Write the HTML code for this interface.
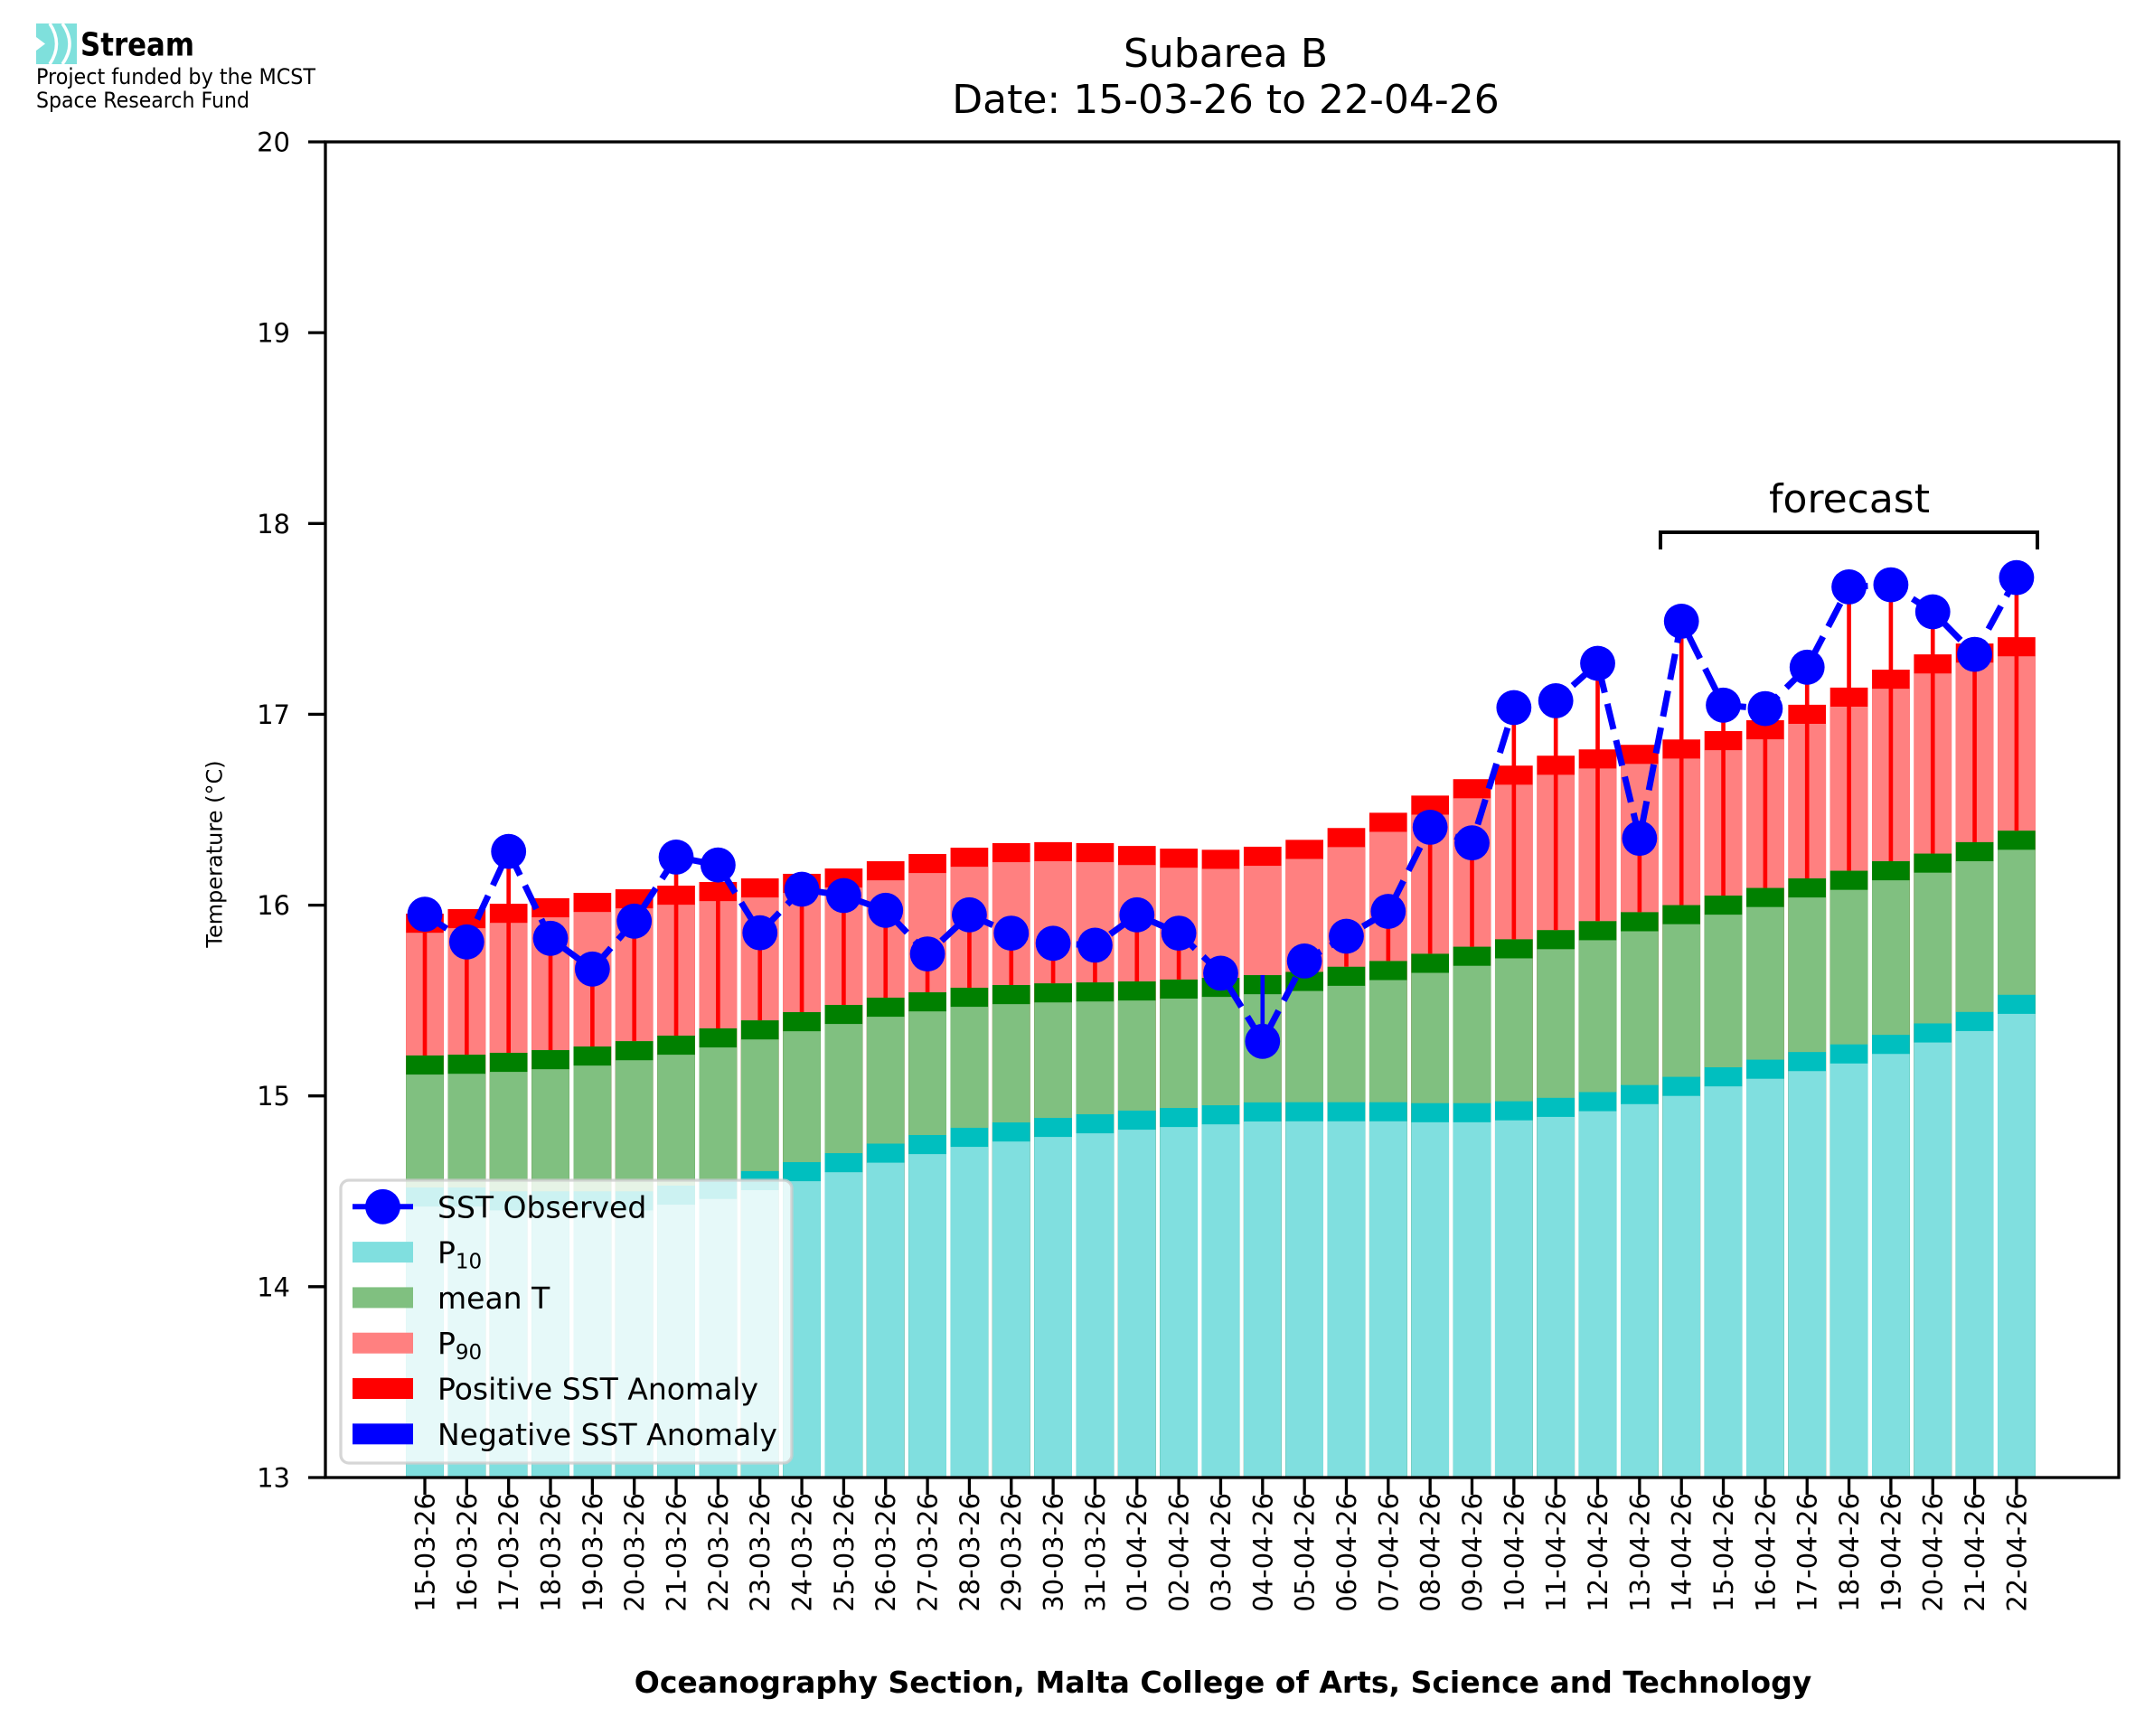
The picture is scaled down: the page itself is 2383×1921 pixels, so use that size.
<!DOCTYPE html>
<html><head><meta charset="utf-8"><style>
html,body{margin:0;padding:0;background:#fff;}
svg{display:block;font-family:"DejaVu Sans","Liberation Sans",sans-serif;}
</style></head><body>
<svg width="2383" height="1921" viewBox="0 0 2383 1921" xmlns="http://www.w3.org/2000/svg">
<rect width="2383" height="1921" fill="#fff"/>
<!-- logo -->
<rect x="40" y="26" width="45" height="45" fill="#7fe0dc"/>
<polygon points="40,41 50,48.5 40,56" fill="#fff"/>
<path d="M55 26 Q70 48.5 55 71" stroke="#fff" stroke-width="3.5" fill="none"/>
<path d="M69 26 Q85 48.5 69 71" stroke="#fff" stroke-width="3.5" fill="none"/>
<text x="89" y="61.5" font-size="36" font-weight="bold" textLength="126" lengthAdjust="spacingAndGlyphs">Stream</text>
<text x="40" y="93" font-size="24" textLength="309" lengthAdjust="spacingAndGlyphs">Project funded by the MCST</text>
<text x="40" y="119" font-size="24" textLength="236" lengthAdjust="spacingAndGlyphs">Space Research Fund</text>
<!-- title -->
<text x="1356" y="74" font-size="44" text-anchor="middle">Subarea B</text>
<text x="1356" y="125" font-size="44" text-anchor="middle">Date: 15-03-26 to 22-04-26</text>
<!-- bars -->
<g transform="matrix(46.34 0 0 -211.14 470 4379.8)">
<g fill="#ff0000">
<rect x="-0.45" y="13" width="0.9" height="2.955"/><rect x="0.55" y="13" width="0.9" height="2.979"/><rect x="1.55" y="13" width="0.9" height="3.007"/><rect x="2.55" y="13" width="0.9" height="3.036"/><rect x="3.55" y="13" width="0.9" height="3.064"/><rect x="4.55" y="13" width="0.9" height="3.083"/><rect x="5.55" y="13" width="0.9" height="3.102"/><rect x="6.55" y="13" width="0.9" height="3.121"/><rect x="7.55" y="13" width="0.9" height="3.14"/><rect x="8.55" y="13" width="0.9" height="3.164"/><rect x="9.55" y="13" width="0.9" height="3.192"/><rect x="10.55" y="13" width="0.9" height="3.23"/><rect x="11.55" y="13" width="0.9" height="3.268"/><rect x="12.55" y="13" width="0.9" height="3.301"/><rect x="13.55" y="13" width="0.9" height="3.325"/><rect x="14.55" y="13" width="0.9" height="3.33"/><rect x="15.55" y="13" width="0.9" height="3.325"/><rect x="16.55" y="13" width="0.9" height="3.31"/><rect x="17.55" y="13" width="0.9" height="3.296"/><rect x="18.55" y="13" width="0.9" height="3.29"/><rect x="19.55" y="13" width="0.9" height="3.306"/><rect x="20.55" y="13" width="0.9" height="3.342"/><rect x="21.55" y="13" width="0.9" height="3.404"/><rect x="22.55" y="13" width="0.9" height="3.484"/><rect x="23.55" y="13" width="0.9" height="3.574"/><rect x="24.55" y="13" width="0.9" height="3.66"/><rect x="25.55" y="13" width="0.9" height="3.731"/><rect x="26.55" y="13" width="0.9" height="3.783"/><rect x="27.55" y="13" width="0.9" height="3.816"/><rect x="28.55" y="13" width="0.9" height="3.84"/><rect x="29.55" y="13" width="0.9" height="3.868"/><rect x="30.55" y="13" width="0.9" height="3.912"/><rect x="31.55" y="13" width="0.9" height="3.969"/><rect x="32.55" y="13" width="0.9" height="4.05"/><rect x="33.55" y="13" width="0.9" height="4.14"/><rect x="34.55" y="13" width="0.9" height="4.234"/><rect x="35.55" y="13" width="0.9" height="4.314"/><rect x="36.55" y="13" width="0.9" height="4.371"/><rect x="37.55" y="13" width="0.9" height="4.404"/>
</g>
<g fill="#ff8080">
<rect x="-0.45" y="13" width="0.9" height="2.855"/><rect x="0.55" y="13" width="0.9" height="2.879"/><rect x="1.55" y="13" width="0.9" height="2.907"/><rect x="2.55" y="13" width="0.9" height="2.936"/><rect x="3.55" y="13" width="0.9" height="2.964"/><rect x="4.55" y="13" width="0.9" height="2.983"/><rect x="5.55" y="13" width="0.9" height="3.002"/><rect x="6.55" y="13" width="0.9" height="3.021"/><rect x="7.55" y="13" width="0.9" height="3.04"/><rect x="8.55" y="13" width="0.9" height="3.064"/><rect x="9.55" y="13" width="0.9" height="3.092"/><rect x="10.55" y="13" width="0.9" height="3.13"/><rect x="11.55" y="13" width="0.9" height="3.168"/><rect x="12.55" y="13" width="0.9" height="3.201"/><rect x="13.55" y="13" width="0.9" height="3.225"/><rect x="14.55" y="13" width="0.9" height="3.23"/><rect x="15.55" y="13" width="0.9" height="3.225"/><rect x="16.55" y="13" width="0.9" height="3.21"/><rect x="17.55" y="13" width="0.9" height="3.196"/><rect x="18.55" y="13" width="0.9" height="3.19"/><rect x="19.55" y="13" width="0.9" height="3.206"/><rect x="20.55" y="13" width="0.9" height="3.242"/><rect x="21.55" y="13" width="0.9" height="3.304"/><rect x="22.55" y="13" width="0.9" height="3.384"/><rect x="23.55" y="13" width="0.9" height="3.474"/><rect x="24.55" y="13" width="0.9" height="3.56"/><rect x="25.55" y="13" width="0.9" height="3.631"/><rect x="26.55" y="13" width="0.9" height="3.683"/><rect x="27.55" y="13" width="0.9" height="3.716"/><rect x="28.55" y="13" width="0.9" height="3.74"/><rect x="29.55" y="13" width="0.9" height="3.768"/><rect x="30.55" y="13" width="0.9" height="3.812"/><rect x="31.55" y="13" width="0.9" height="3.869"/><rect x="32.55" y="13" width="0.9" height="3.95"/><rect x="33.55" y="13" width="0.9" height="4.04"/><rect x="34.55" y="13" width="0.9" height="4.134"/><rect x="35.55" y="13" width="0.9" height="4.214"/><rect x="36.55" y="13" width="0.9" height="4.271"/><rect x="37.55" y="13" width="0.9" height="4.304"/>
</g>
<g fill="#008000">
<rect x="-0.45" y="13" width="0.9" height="2.212"/><rect x="0.55" y="13" width="0.9" height="2.216"/><rect x="1.55" y="13" width="0.9" height="2.226"/><rect x="2.55" y="13" width="0.9" height="2.24"/><rect x="3.55" y="13" width="0.9" height="2.259"/><rect x="4.55" y="13" width="0.9" height="2.287"/><rect x="5.55" y="13" width="0.9" height="2.316"/><rect x="6.55" y="13" width="0.9" height="2.354"/><rect x="7.55" y="13" width="0.9" height="2.396"/><rect x="8.55" y="13" width="0.9" height="2.439"/><rect x="9.55" y="13" width="0.9" height="2.477"/><rect x="10.55" y="13" width="0.9" height="2.515"/><rect x="11.55" y="13" width="0.9" height="2.543"/><rect x="12.55" y="13" width="0.9" height="2.567"/><rect x="13.55" y="13" width="0.9" height="2.581"/><rect x="14.55" y="13" width="0.9" height="2.59"/><rect x="15.55" y="13" width="0.9" height="2.595"/><rect x="16.55" y="13" width="0.9" height="2.6"/><rect x="17.55" y="13" width="0.9" height="2.61"/><rect x="18.55" y="13" width="0.9" height="2.619"/><rect x="19.55" y="13" width="0.9" height="2.633"/><rect x="20.55" y="13" width="0.9" height="2.65"/><rect x="21.55" y="13" width="0.9" height="2.677"/><rect x="22.55" y="13" width="0.9" height="2.707"/><rect x="23.55" y="13" width="0.9" height="2.745"/><rect x="24.55" y="13" width="0.9" height="2.782"/><rect x="25.55" y="13" width="0.9" height="2.821"/><rect x="26.55" y="13" width="0.9" height="2.869"/><rect x="27.55" y="13" width="0.9" height="2.916"/><rect x="28.55" y="13" width="0.9" height="2.963"/><rect x="29.55" y="13" width="0.9" height="3.0"/><rect x="30.55" y="13" width="0.9" height="3.05"/><rect x="31.55" y="13" width="0.9" height="3.09"/><rect x="32.55" y="13" width="0.9" height="3.14"/><rect x="33.55" y="13" width="0.9" height="3.18"/><rect x="34.55" y="13" width="0.9" height="3.23"/><rect x="35.55" y="13" width="0.9" height="3.27"/><rect x="36.55" y="13" width="0.9" height="3.33"/><rect x="37.55" y="13" width="0.9" height="3.39"/>
</g>
<g fill="#80c080">
<rect x="-0.45" y="13" width="0.9" height="2.112"/><rect x="0.55" y="13" width="0.9" height="2.116"/><rect x="1.55" y="13" width="0.9" height="2.126"/><rect x="2.55" y="13" width="0.9" height="2.14"/><rect x="3.55" y="13" width="0.9" height="2.159"/><rect x="4.55" y="13" width="0.9" height="2.187"/><rect x="5.55" y="13" width="0.9" height="2.216"/><rect x="6.55" y="13" width="0.9" height="2.254"/><rect x="7.55" y="13" width="0.9" height="2.296"/><rect x="8.55" y="13" width="0.9" height="2.339"/><rect x="9.55" y="13" width="0.9" height="2.377"/><rect x="10.55" y="13" width="0.9" height="2.415"/><rect x="11.55" y="13" width="0.9" height="2.443"/><rect x="12.55" y="13" width="0.9" height="2.467"/><rect x="13.55" y="13" width="0.9" height="2.481"/><rect x="14.55" y="13" width="0.9" height="2.49"/><rect x="15.55" y="13" width="0.9" height="2.495"/><rect x="16.55" y="13" width="0.9" height="2.5"/><rect x="17.55" y="13" width="0.9" height="2.51"/><rect x="18.55" y="13" width="0.9" height="2.519"/><rect x="19.55" y="13" width="0.9" height="2.533"/><rect x="20.55" y="13" width="0.9" height="2.55"/><rect x="21.55" y="13" width="0.9" height="2.577"/><rect x="22.55" y="13" width="0.9" height="2.607"/><rect x="23.55" y="13" width="0.9" height="2.645"/><rect x="24.55" y="13" width="0.9" height="2.682"/><rect x="25.55" y="13" width="0.9" height="2.721"/><rect x="26.55" y="13" width="0.9" height="2.769"/><rect x="27.55" y="13" width="0.9" height="2.816"/><rect x="28.55" y="13" width="0.9" height="2.863"/><rect x="29.55" y="13" width="0.9" height="2.9"/><rect x="30.55" y="13" width="0.9" height="2.95"/><rect x="31.55" y="13" width="0.9" height="2.99"/><rect x="32.55" y="13" width="0.9" height="3.04"/><rect x="33.55" y="13" width="0.9" height="3.08"/><rect x="34.55" y="13" width="0.9" height="3.13"/><rect x="35.55" y="13" width="0.9" height="3.17"/><rect x="36.55" y="13" width="0.9" height="3.23"/><rect x="37.55" y="13" width="0.9" height="3.29"/>
</g>
<g fill="#00bfbf">
<rect x="-0.45" y="13" width="0.9" height="1.52"/><rect x="0.55" y="13" width="0.9" height="1.52"/><rect x="1.55" y="13" width="0.9" height="1.5"/><rect x="2.55" y="13" width="0.9" height="1.5"/><rect x="3.55" y="13" width="0.9" height="1.5"/><rect x="4.55" y="13" width="0.9" height="1.5"/><rect x="5.55" y="13" width="0.9" height="1.53"/><rect x="6.55" y="13" width="0.9" height="1.56"/><rect x="7.55" y="13" width="0.9" height="1.606"/><rect x="8.55" y="13" width="0.9" height="1.653"/><rect x="9.55" y="13" width="0.9" height="1.7"/><rect x="10.55" y="13" width="0.9" height="1.75"/><rect x="11.55" y="13" width="0.9" height="1.795"/><rect x="12.55" y="13" width="0.9" height="1.833"/><rect x="13.55" y="13" width="0.9" height="1.861"/><rect x="14.55" y="13" width="0.9" height="1.885"/><rect x="15.55" y="13" width="0.9" height="1.904"/><rect x="16.55" y="13" width="0.9" height="1.923"/><rect x="17.55" y="13" width="0.9" height="1.937"/><rect x="18.55" y="13" width="0.9" height="1.951"/><rect x="19.55" y="13" width="0.9" height="1.966"/><rect x="20.55" y="13" width="0.9" height="1.967"/><rect x="21.55" y="13" width="0.9" height="1.967"/><rect x="22.55" y="13" width="0.9" height="1.967"/><rect x="23.55" y="13" width="0.9" height="1.962"/><rect x="24.55" y="13" width="0.9" height="1.962"/><rect x="25.55" y="13" width="0.9" height="1.972"/><rect x="26.55" y="13" width="0.9" height="1.99"/><rect x="27.55" y="13" width="0.9" height="2.02"/><rect x="28.55" y="13" width="0.9" height="2.057"/><rect x="29.55" y="13" width="0.9" height="2.1"/><rect x="30.55" y="13" width="0.9" height="2.15"/><rect x="31.55" y="13" width="0.9" height="2.19"/><rect x="32.55" y="13" width="0.9" height="2.23"/><rect x="33.55" y="13" width="0.9" height="2.27"/><rect x="34.55" y="13" width="0.9" height="2.32"/><rect x="35.55" y="13" width="0.9" height="2.38"/><rect x="36.55" y="13" width="0.9" height="2.44"/><rect x="37.55" y="13" width="0.9" height="2.53"/>
</g>
<g fill="#80dfdf">
<rect x="-0.45" y="13" width="0.9" height="1.42"/><rect x="0.55" y="13" width="0.9" height="1.42"/><rect x="1.55" y="13" width="0.9" height="1.4"/><rect x="2.55" y="13" width="0.9" height="1.4"/><rect x="3.55" y="13" width="0.9" height="1.4"/><rect x="4.55" y="13" width="0.9" height="1.4"/><rect x="5.55" y="13" width="0.9" height="1.43"/><rect x="6.55" y="13" width="0.9" height="1.46"/><rect x="7.55" y="13" width="0.9" height="1.506"/><rect x="8.55" y="13" width="0.9" height="1.553"/><rect x="9.55" y="13" width="0.9" height="1.6"/><rect x="10.55" y="13" width="0.9" height="1.65"/><rect x="11.55" y="13" width="0.9" height="1.695"/><rect x="12.55" y="13" width="0.9" height="1.733"/><rect x="13.55" y="13" width="0.9" height="1.761"/><rect x="14.55" y="13" width="0.9" height="1.785"/><rect x="15.55" y="13" width="0.9" height="1.804"/><rect x="16.55" y="13" width="0.9" height="1.823"/><rect x="17.55" y="13" width="0.9" height="1.837"/><rect x="18.55" y="13" width="0.9" height="1.851"/><rect x="19.55" y="13" width="0.9" height="1.866"/><rect x="20.55" y="13" width="0.9" height="1.867"/><rect x="21.55" y="13" width="0.9" height="1.867"/><rect x="22.55" y="13" width="0.9" height="1.867"/><rect x="23.55" y="13" width="0.9" height="1.862"/><rect x="24.55" y="13" width="0.9" height="1.862"/><rect x="25.55" y="13" width="0.9" height="1.872"/><rect x="26.55" y="13" width="0.9" height="1.89"/><rect x="27.55" y="13" width="0.9" height="1.92"/><rect x="28.55" y="13" width="0.9" height="1.957"/><rect x="29.55" y="13" width="0.9" height="2.0"/><rect x="30.55" y="13" width="0.9" height="2.05"/><rect x="31.55" y="13" width="0.9" height="2.09"/><rect x="32.55" y="13" width="0.9" height="2.13"/><rect x="33.55" y="13" width="0.9" height="2.17"/><rect x="34.55" y="13" width="0.9" height="2.22"/><rect x="35.55" y="13" width="0.9" height="2.28"/><rect x="36.55" y="13" width="0.9" height="2.34"/><rect x="37.55" y="13" width="0.9" height="2.43"/>
</g>
<!-- anomaly lines -->
<g stroke="#ff0000" stroke-width="0.1">
<line x1="0" x2="0" y1="15.212" y2="15.952"/><line x1="1" x2="1" y1="15.216" y2="15.807"/><line x1="2" x2="2" y1="15.226" y2="16.281"/><line x1="3" x2="3" y1="15.24" y2="15.826"/><line x1="4" x2="4" y1="15.259" y2="15.665"/><line x1="5" x2="5" y1="15.287" y2="15.916"/><line x1="6" x2="6" y1="15.316" y2="16.252"/><line x1="7" x2="7" y1="15.354" y2="16.21"/><line x1="8" x2="8" y1="15.396" y2="15.855"/><line x1="9" x2="9" y1="15.439" y2="16.083"/><line x1="10" x2="10" y1="15.477" y2="16.05"/><line x1="11" x2="11" y1="15.515" y2="15.973"/><line x1="12" x2="12" y1="15.543" y2="15.744"/><line x1="13" x2="13" y1="15.567" y2="15.949"/><line x1="14" x2="14" y1="15.581" y2="15.853"/><line x1="15" x2="15" y1="15.59" y2="15.8"/><line x1="16" x2="16" y1="15.595" y2="15.79"/><line x1="17" x2="17" y1="15.6" y2="15.949"/><line x1="18" x2="18" y1="15.61" y2="15.853"/><line x1="19" x2="19" y1="15.619" y2="15.643"/><line x1="21" x2="21" y1="15.65" y2="15.707"/><line x1="22" x2="22" y1="15.677" y2="15.837"/><line x1="23" x2="23" y1="15.707" y2="15.967"/><line x1="24" x2="24" y1="15.745" y2="16.408"/><line x1="25" x2="25" y1="15.782" y2="16.326"/><line x1="26" x2="26" y1="15.821" y2="17.035"/><line x1="27" x2="27" y1="15.869" y2="17.071"/><line x1="28" x2="28" y1="15.916" y2="17.267"/><line x1="29" x2="29" y1="15.963" y2="16.35"/><line x1="30" x2="30" y1="16.0" y2="17.488"/><line x1="31" x2="31" y1="16.05" y2="17.048"/><line x1="32" x2="32" y1="16.09" y2="17.03"/><line x1="33" x2="33" y1="16.14" y2="17.247"/><line x1="34" x2="34" y1="16.18" y2="17.668"/><line x1="35" x2="35" y1="16.23" y2="17.679"/><line x1="36" x2="36" y1="16.27" y2="17.537"/><line x1="37" x2="37" y1="16.33" y2="17.314"/><line x1="38" x2="38" y1="16.39" y2="17.716"/>
</g>
<line x1="20" x2="20" y1="15.633" y2="15.286" stroke="#0000ff" stroke-width="0.1"/>
</g>
<!-- observed dashed line -->
<polyline fill="none" stroke="#0000ff" stroke-width="7" stroke-dasharray="29 12.5" points="470,1011.7 516.34,1042.3 562.68,942.2 609.02,1038.3 655.36,1072.3 701.7,1019.3 748.04,948.4 794.38,957.2 840.72,1032.2 887.06,984.0 933.4,991.0 979.74,1007.3 1026.08,1055.6 1072.42,1012.3 1118.76,1032.6 1165.1,1043.8 1211.44,1045.9 1257.78,1012.3 1304.12,1032.6 1350.46,1076.9 1396.8,1152.3 1443.14,1063.4 1489.48,1036.0 1535.82,1008.5 1582.16,915.4 1628.5,932.7 1674.84,783.0 1721.18,775.4 1767.52,734.0 1813.86,927.7 1860.2,687.4 1906.54,780.3 1952.88,784.1 1999.22,738.3 2045.56,649.4 2091.9,647.1 2138.24,677.0 2184.58,724.1 2230.92,639.2"/>
<g fill="#0000ff">
<circle cx="470" cy="1011.7" r="19.4"/><circle cx="516.34" cy="1042.3" r="19.4"/><circle cx="562.68" cy="942.2" r="19.4"/><circle cx="609.02" cy="1038.3" r="19.4"/><circle cx="655.36" cy="1072.3" r="19.4"/><circle cx="701.7" cy="1019.3" r="19.4"/><circle cx="748.04" cy="948.4" r="19.4"/><circle cx="794.38" cy="957.2" r="19.4"/><circle cx="840.72" cy="1032.2" r="19.4"/><circle cx="887.06" cy="984.0" r="19.4"/><circle cx="933.4" cy="991.0" r="19.4"/><circle cx="979.74" cy="1007.3" r="19.4"/><circle cx="1026.08" cy="1055.6" r="19.4"/><circle cx="1072.42" cy="1012.3" r="19.4"/><circle cx="1118.76" cy="1032.6" r="19.4"/><circle cx="1165.1" cy="1043.8" r="19.4"/><circle cx="1211.44" cy="1045.9" r="19.4"/><circle cx="1257.78" cy="1012.3" r="19.4"/><circle cx="1304.12" cy="1032.6" r="19.4"/><circle cx="1350.46" cy="1076.9" r="19.4"/><circle cx="1396.8" cy="1152.3" r="19.4"/><circle cx="1443.14" cy="1063.4" r="19.4"/><circle cx="1489.48" cy="1036.0" r="19.4"/><circle cx="1535.82" cy="1008.5" r="19.4"/><circle cx="1582.16" cy="915.4" r="19.4"/><circle cx="1628.5" cy="932.7" r="19.4"/><circle cx="1674.84" cy="783.0" r="19.4"/><circle cx="1721.18" cy="775.4" r="19.4"/><circle cx="1767.52" cy="734.0" r="19.4"/><circle cx="1813.86" cy="927.7" r="19.4"/><circle cx="1860.2" cy="687.4" r="19.4"/><circle cx="1906.54" cy="780.3" r="19.4"/><circle cx="1952.88" cy="784.1" r="19.4"/><circle cx="1999.22" cy="738.3" r="19.4"/><circle cx="2045.56" cy="649.4" r="19.4"/><circle cx="2091.9" cy="647.1" r="19.4"/><circle cx="2138.24" cy="677.0" r="19.4"/><circle cx="2184.58" cy="724.1" r="19.4"/><circle cx="2230.92" cy="639.2" r="19.4"/>
</g>
<!-- forecast bracket -->
<path d="M1837 608 L1837 589 L2254 589 L2254 608" fill="none" stroke="#000" stroke-width="4"/>
<text x="2046" y="567" font-size="44" text-anchor="middle">forecast</text>
<!-- legend -->
<rect x="377" y="1306" width="499" height="313" rx="9" fill="#fff" fill-opacity="0.8" stroke="#cccccc" stroke-opacity="0.8" stroke-width="3.3"/>
<line x1="390" y1="1335.3" x2="457" y2="1335.3" stroke="#0000ff" stroke-width="6"/>
<circle cx="423.5" cy="1335.3" r="19.4" fill="#0000ff"/>
<rect x="390" y="1374.1" width="67" height="23" fill="#80dfdf"/>
<rect x="390" y="1424.4" width="67" height="23" fill="#80c080"/>
<rect x="390" y="1474.7" width="67" height="23" fill="#ff8080"/>
<rect x="390" y="1525" width="67" height="23" fill="#ff0000"/>
<rect x="390" y="1575.3" width="67" height="23" fill="#0000ff"/>
<g font-size="33">
<text x="484" y="1347.3">SST Observed</text>
<text x="484" y="1397.6">P<tspan font-size="23" dy="6">10</tspan></text>
<text x="484" y="1447.9">mean T</text>
<text x="484" y="1498.2">P<tspan font-size="23" dy="6">90</tspan></text>
<text x="484" y="1548.5">Positive SST Anomaly</text>
<text x="484" y="1598.8">Negative SST Anomaly</text>
</g>
<!-- axes frame -->
<rect x="360" y="157" width="1984" height="1478" fill="none" stroke="#000" stroke-width="3.3"/>
<!-- y ticks -->
<g stroke="#000" stroke-width="3.3">
<line x1="341" x2="360" y1="157" y2="157"/><line x1="341" x2="360" y1="368.1" y2="368.1"/><line x1="341" x2="360" y1="579.3" y2="579.3"/><line x1="341" x2="360" y1="790.4" y2="790.4"/><line x1="341" x2="360" y1="1001.6" y2="1001.6"/><line x1="341" x2="360" y1="1212.7" y2="1212.7"/><line x1="341" x2="360" y1="1423.8" y2="1423.8"/><line x1="341" x2="360" y1="1635" y2="1635"/>
</g>
<g font-size="29" text-anchor="end">
<text x="321" y="167.5">20</text><text x="321" y="378.6">19</text><text x="321" y="589.8">18</text><text x="321" y="800.9">17</text><text x="321" y="1012.1">16</text><text x="321" y="1223.2">15</text><text x="321" y="1434.3">14</text><text x="321" y="1645.5">13</text>
</g>
<text transform="translate(237 945) rotate(-90)" font-size="24" text-anchor="middle" dy="0.35em">Temperature (°C)</text>
<!-- x ticks -->
<g stroke="#000" stroke-width="3.3">
<line x1="470" x2="470" y1="1635" y2="1654"/><line x1="516.34" x2="516.34" y1="1635" y2="1654"/><line x1="562.68" x2="562.68" y1="1635" y2="1654"/><line x1="609.02" x2="609.02" y1="1635" y2="1654"/><line x1="655.36" x2="655.36" y1="1635" y2="1654"/><line x1="701.7" x2="701.7" y1="1635" y2="1654"/><line x1="748.04" x2="748.04" y1="1635" y2="1654"/><line x1="794.38" x2="794.38" y1="1635" y2="1654"/><line x1="840.72" x2="840.72" y1="1635" y2="1654"/><line x1="887.06" x2="887.06" y1="1635" y2="1654"/><line x1="933.4" x2="933.4" y1="1635" y2="1654"/><line x1="979.74" x2="979.74" y1="1635" y2="1654"/><line x1="1026.08" x2="1026.08" y1="1635" y2="1654"/><line x1="1072.42" x2="1072.42" y1="1635" y2="1654"/><line x1="1118.76" x2="1118.76" y1="1635" y2="1654"/><line x1="1165.1" x2="1165.1" y1="1635" y2="1654"/><line x1="1211.44" x2="1211.44" y1="1635" y2="1654"/><line x1="1257.78" x2="1257.78" y1="1635" y2="1654"/><line x1="1304.12" x2="1304.12" y1="1635" y2="1654"/><line x1="1350.46" x2="1350.46" y1="1635" y2="1654"/><line x1="1396.8" x2="1396.8" y1="1635" y2="1654"/><line x1="1443.14" x2="1443.14" y1="1635" y2="1654"/><line x1="1489.48" x2="1489.48" y1="1635" y2="1654"/><line x1="1535.82" x2="1535.82" y1="1635" y2="1654"/><line x1="1582.16" x2="1582.16" y1="1635" y2="1654"/><line x1="1628.5" x2="1628.5" y1="1635" y2="1654"/><line x1="1674.84" x2="1674.84" y1="1635" y2="1654"/><line x1="1721.18" x2="1721.18" y1="1635" y2="1654"/><line x1="1767.52" x2="1767.52" y1="1635" y2="1654"/><line x1="1813.86" x2="1813.86" y1="1635" y2="1654"/><line x1="1860.2" x2="1860.2" y1="1635" y2="1654"/><line x1="1906.54" x2="1906.54" y1="1635" y2="1654"/><line x1="1952.88" x2="1952.88" y1="1635" y2="1654"/><line x1="1999.22" x2="1999.22" y1="1635" y2="1654"/><line x1="2045.56" x2="2045.56" y1="1635" y2="1654"/><line x1="2091.9" x2="2091.9" y1="1635" y2="1654"/><line x1="2138.24" x2="2138.24" y1="1635" y2="1654"/><line x1="2184.58" x2="2184.58" y1="1635" y2="1654"/><line x1="2230.92" x2="2230.92" y1="1635" y2="1654"/>
</g>
<g font-size="29" text-anchor="end">
<text transform="translate(470 1652) rotate(-90)" dy="0.36em">15-03-26</text>
<text transform="translate(516.34 1652) rotate(-90)" dy="0.36em">16-03-26</text>
<text transform="translate(562.68 1652) rotate(-90)" dy="0.36em">17-03-26</text>
<text transform="translate(609.02 1652) rotate(-90)" dy="0.36em">18-03-26</text>
<text transform="translate(655.36 1652) rotate(-90)" dy="0.36em">19-03-26</text>
<text transform="translate(701.7 1652) rotate(-90)" dy="0.36em">20-03-26</text>
<text transform="translate(748.04 1652) rotate(-90)" dy="0.36em">21-03-26</text>
<text transform="translate(794.38 1652) rotate(-90)" dy="0.36em">22-03-26</text>
<text transform="translate(840.72 1652) rotate(-90)" dy="0.36em">23-03-26</text>
<text transform="translate(887.06 1652) rotate(-90)" dy="0.36em">24-03-26</text>
<text transform="translate(933.4 1652) rotate(-90)" dy="0.36em">25-03-26</text>
<text transform="translate(979.74 1652) rotate(-90)" dy="0.36em">26-03-26</text>
<text transform="translate(1026.08 1652) rotate(-90)" dy="0.36em">27-03-26</text>
<text transform="translate(1072.42 1652) rotate(-90)" dy="0.36em">28-03-26</text>
<text transform="translate(1118.76 1652) rotate(-90)" dy="0.36em">29-03-26</text>
<text transform="translate(1165.1 1652) rotate(-90)" dy="0.36em">30-03-26</text>
<text transform="translate(1211.44 1652) rotate(-90)" dy="0.36em">31-03-26</text>
<text transform="translate(1257.78 1652) rotate(-90)" dy="0.36em">01-04-26</text>
<text transform="translate(1304.12 1652) rotate(-90)" dy="0.36em">02-04-26</text>
<text transform="translate(1350.46 1652) rotate(-90)" dy="0.36em">03-04-26</text>
<text transform="translate(1396.8 1652) rotate(-90)" dy="0.36em">04-04-26</text>
<text transform="translate(1443.14 1652) rotate(-90)" dy="0.36em">05-04-26</text>
<text transform="translate(1489.48 1652) rotate(-90)" dy="0.36em">06-04-26</text>
<text transform="translate(1535.82 1652) rotate(-90)" dy="0.36em">07-04-26</text>
<text transform="translate(1582.16 1652) rotate(-90)" dy="0.36em">08-04-26</text>
<text transform="translate(1628.5 1652) rotate(-90)" dy="0.36em">09-04-26</text>
<text transform="translate(1674.84 1652) rotate(-90)" dy="0.36em">10-04-26</text>
<text transform="translate(1721.18 1652) rotate(-90)" dy="0.36em">11-04-26</text>
<text transform="translate(1767.52 1652) rotate(-90)" dy="0.36em">12-04-26</text>
<text transform="translate(1813.86 1652) rotate(-90)" dy="0.36em">13-04-26</text>
<text transform="translate(1860.2 1652) rotate(-90)" dy="0.36em">14-04-26</text>
<text transform="translate(1906.54 1652) rotate(-90)" dy="0.36em">15-04-26</text>
<text transform="translate(1952.88 1652) rotate(-90)" dy="0.36em">16-04-26</text>
<text transform="translate(1999.22 1652) rotate(-90)" dy="0.36em">17-04-26</text>
<text transform="translate(2045.56 1652) rotate(-90)" dy="0.36em">18-04-26</text>
<text transform="translate(2091.9 1652) rotate(-90)" dy="0.36em">19-04-26</text>
<text transform="translate(2138.24 1652) rotate(-90)" dy="0.36em">20-04-26</text>
<text transform="translate(2184.58 1652) rotate(-90)" dy="0.36em">21-04-26</text>
<text transform="translate(2230.92 1652) rotate(-90)" dy="0.36em">22-04-26</text>
</g>
<text x="1353" y="1873" font-size="33" font-weight="bold" text-anchor="middle">Oceanography Section, Malta College of Arts, Science and Technology</text>
</svg>
</body></html>
